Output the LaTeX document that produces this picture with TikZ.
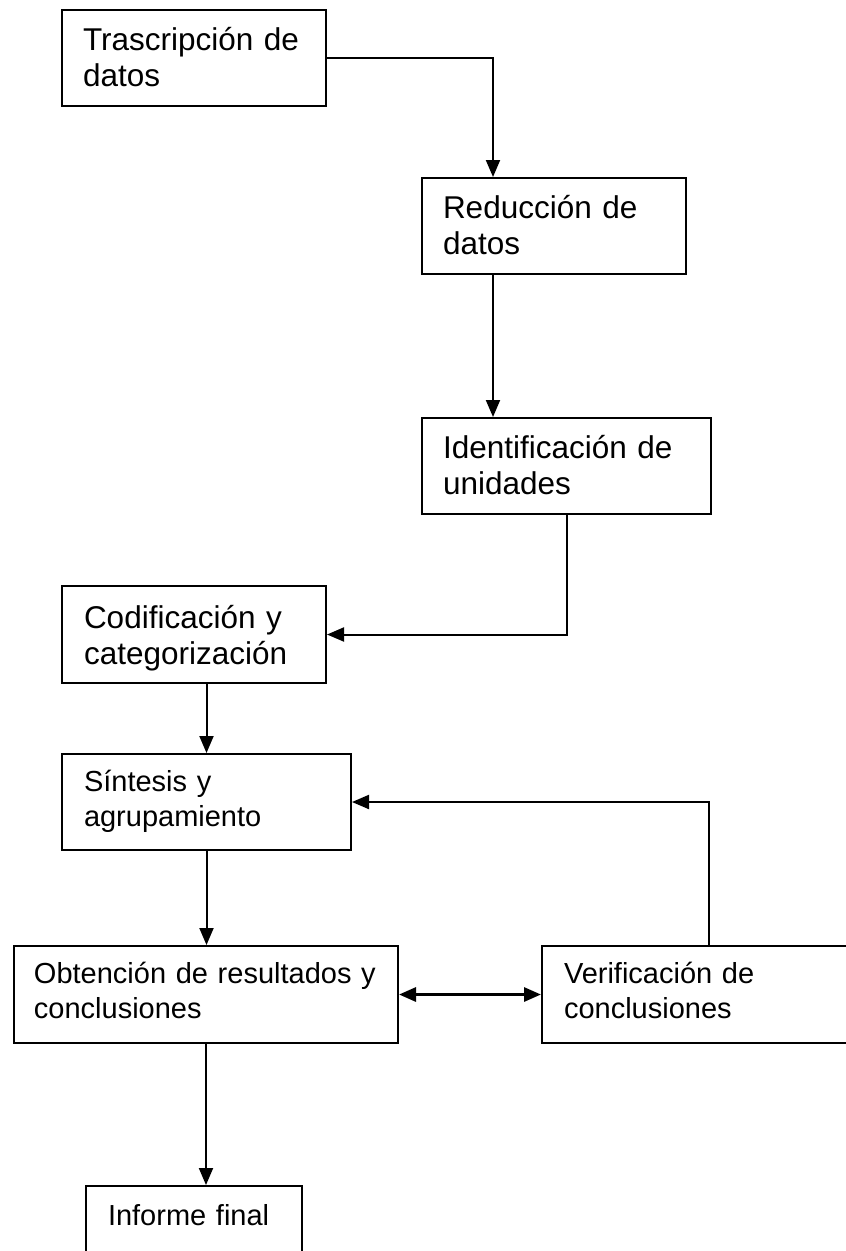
\documentclass[tikz,border=0pt]{standalone}
\usepackage{fontspec}
\setmainfont{Liberation Sans}
\usetikzlibrary{arrows.meta}
\begin{document}
\begin{tikzpicture}[x=1pt,y=-1pt,
  box/.style={draw, line width=2pt, anchor=north west, inner ysep=0pt, align=left},
  big/.style={font=\fontsize{31.5}{36}\selectfont},
  small/.style={font=\fontsize{29}{35}\selectfont},
  conn/.style={line width=2pt, -{Triangle[length=17pt,width=14pt]}},
  dconn/.style={line width=3pt, {Triangle[length=17pt,width=14pt]}-{Triangle[length=17pt,width=14pt]}},
]
\useasboundingbox (0,0) rectangle (846,1251);
\clip (0,0) rectangle (846,1251);

\node[box, big, inner xsep=21pt, text width=222pt, text height=40pt, text depth=56pt] (b1) at (61,9) {Trascripción de\\datos};
\node[box, big, inner xsep=21pt, text width=222pt, text height=40pt, text depth=56pt] (b2) at (421,177) {Reducción de\\datos};
\node[box, big, inner xsep=21pt, text width=247pt, text height=40pt, text depth=56pt] (b3) at (421,417) {Identificación de\\unidades};
\node[box, big, inner xsep=22pt, text width=220pt, text height=42pt, text depth=55pt] (b4) at (61,585) {Codificación y\\categorización};
\node[box, small, inner xsep=22pt, text width=245pt, text height=37pt, text depth=59pt] (b5) at (61,753) {Síntesis y\\agrupamiento};
\node[box, small, inner xsep=20pt, text width=344pt, text height=37pt, text depth=60pt] (b6) at (13,945) {Obtención de resultados y\\conclusiones};
\node[box, small, inner xsep=22pt, text width=266pt, text height=37pt, text depth=60pt] (b7) at (541,945) {Verificación de\\conclusiones};
\node[box, small, inner xsep=22pt, text width=172pt, text height=39pt, text depth=57pt] (b8) at (85,1185) {Informe final};

\draw[conn] (b1.east) -| ([xshift=72pt]b2.north west);
\draw[conn] ([xshift=72pt]b2.south west) -- ([xshift=72pt]b3.north west);
\draw[conn] (b3.south) |- (b4.east);
\draw[conn] (b5.north |- b4.south) -- (b5.north);
\draw[conn] (b5.south) -- (b5.south |- b6.north);
\draw[conn] ([xshift=168pt]b7.north west) |- (b5.east);
\draw[dconn] (b6.east) -- (b7.west);
\draw[conn] (b6.south) -- (b6.south |- b8.north);
\end{tikzpicture}
\end{document}
